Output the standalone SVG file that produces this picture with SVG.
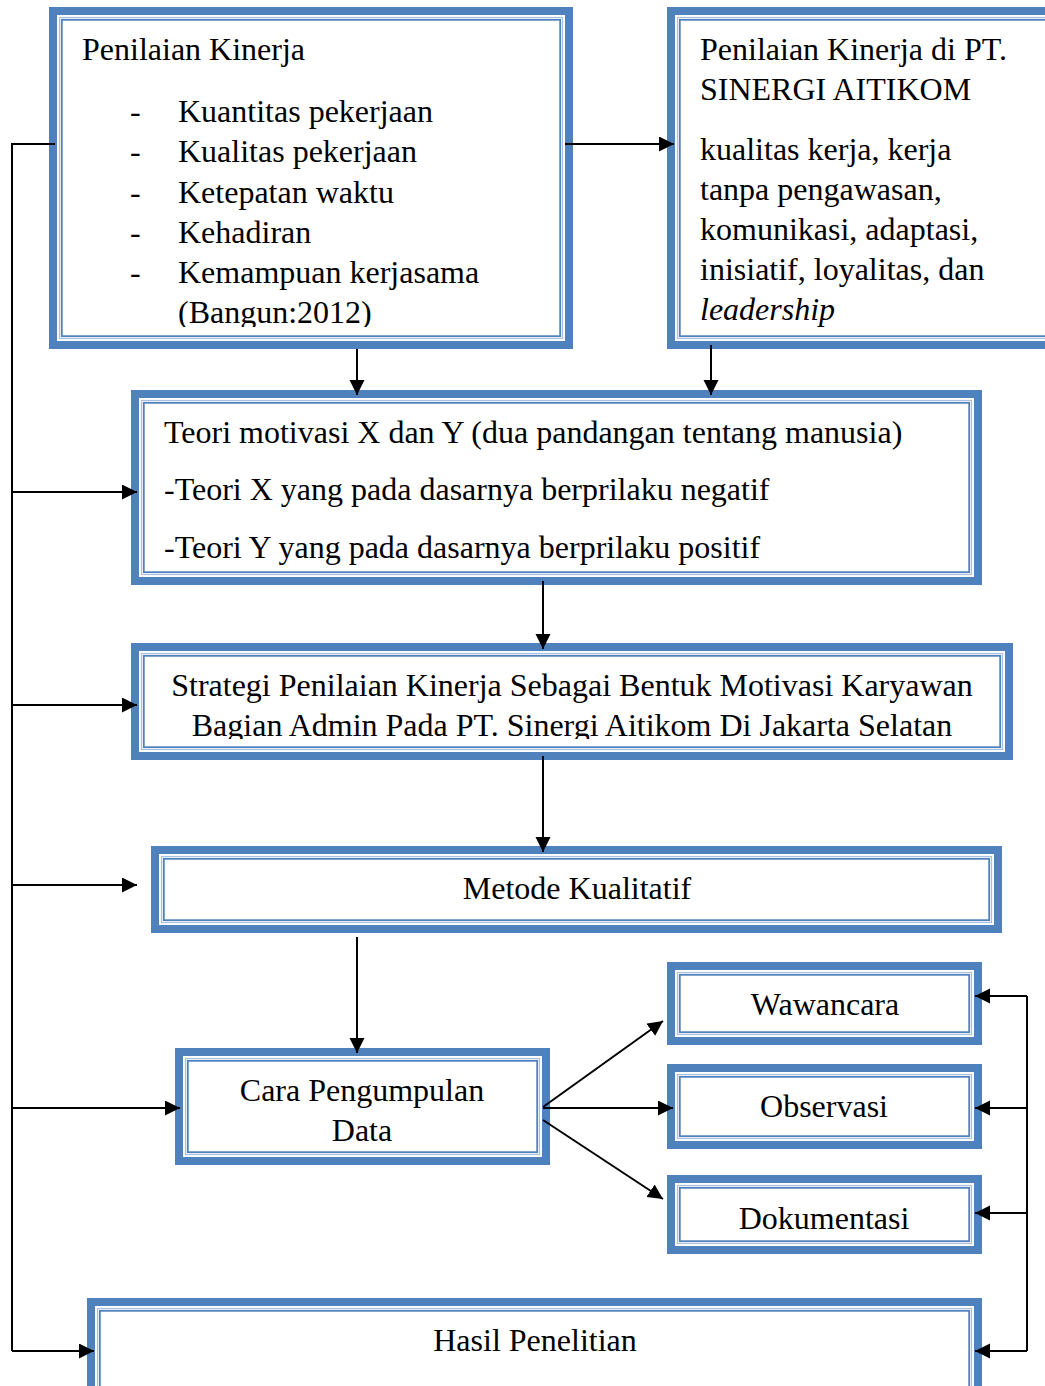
<svg xmlns="http://www.w3.org/2000/svg" width="1045" height="1386" viewBox="0 0 1045 1386">
<style>
.o{fill:#fff;stroke:#4F81BD;stroke-width:8}
.l{fill:none;stroke:#A9C1E0;stroke-width:1.2}
.b{fill:none;stroke:#4F81BD;stroke-width:1.8}
text{font-family:"Liberation Serif","Times New Roman",serif;font-size:32px;fill:#000}
.c{text-anchor:middle}
.ln{fill:none;stroke:#000;stroke-width:2}
.a{marker-end:url(#ah)}
</style>
<defs>
<marker id="ah" markerUnits="userSpaceOnUse" markerWidth="16" markerHeight="16" refX="15" refY="7.5" orient="auto">
<path d="M0,0 L15,7.5 L0,15 z" fill="#000"/>
</marker>
<clipPath id="c1"><rect x="60" y="20" width="500" height="307"/></clipPath>
<clipPath id="c4"><rect x="140" y="655" width="865" height="84"/></clipPath>
</defs>
<rect width="1045" height="1386" fill="#fff"/>

<g id="n1">
<rect class="o" x="53" y="11" width="516" height="334"/>
<rect class="l" x="59.5" y="17.5" width="503" height="321"/>
<rect class="b" x="61.8" y="19.8" width="498.4" height="316.4"/>
<g clip-path="url(#c1)">
<text x="82" y="60">Penilaian Kinerja</text>
<text x="130" y="122">-</text><text x="178" y="122">Kuantitas pekerjaan</text>
<text x="130" y="162">-</text><text x="178" y="162">Kualitas pekerjaan</text>
<text x="130" y="203">-</text><text x="178" y="203">Ketepatan waktu</text>
<text x="130" y="243">-</text><text x="178" y="243">Kehadiran</text>
<text x="130" y="283">-</text><text x="178" y="283">Kemampuan kerjasama</text>
<text x="178" y="323">(Bangun:2012)</text>
</g>
</g>

<g id="n2">
<rect class="o" x="671" y="11" width="400" height="334"/>
<rect class="l" x="677.5" y="17.5" width="387" height="321"/>
<rect class="b" x="679.8" y="19.8" width="382.4" height="316.4"/>
<text x="700" y="60">Penilaian Kinerja di PT.</text>
<text x="700" y="100">SINERGI AITIKOM</text>
<text x="700" y="160">kualitas kerja, kerja</text>
<text x="700" y="200">tanpa pengawasan,</text>
<text x="700" y="240">komunikasi, adaptasi,</text>
<text x="700" y="280">inisiatif, loyalitas, dan</text>
<text x="700" y="320" font-style="italic">leadership</text>
</g>

<g id="n3">
<rect class="o" x="135" y="394" width="843" height="187"/>
<rect class="l" x="141.5" y="400.5" width="830" height="174"/>
<rect class="b" x="143.8" y="402.8" width="825.4" height="169.4"/>
<text x="164" y="443">Teori motivasi X dan Y (dua pandangan tentang manusia)</text>
<text x="164" y="500">-Teori X yang pada dasarnya berprilaku negatif</text>
<text x="164" y="558">-Teori Y yang pada dasarnya berprilaku positif</text>
</g>

<g id="n4">
<rect class="o" x="135" y="647" width="874" height="109"/>
<rect class="l" x="141.5" y="653.5" width="861" height="96"/>
<rect class="b" x="143.8" y="655.8" width="856.4" height="91.4"/>
<g clip-path="url(#c4)">
<text class="c" x="572" y="696">Strategi Penilaian Kinerja Sebagai Bentuk Motivasi Karyawan</text>
<text class="c" x="572" y="736">Bagian Admin Pada PT. Sinergi Aitikom Di Jakarta Selatan</text>
</g>
</g>

<g id="n5">
<rect class="o" x="155" y="850" width="843" height="79"/>
<rect class="l" x="161.5" y="856.5" width="830" height="66"/>
<rect class="b" x="163.8" y="858.8" width="825.4" height="61.4"/>
<text class="c" x="577" y="899">Metode Kualitatif</text>
</g>

<g id="n6">
<rect class="o" x="179" y="1052" width="367" height="109"/>
<rect class="l" x="185.5" y="1058.5" width="354" height="96"/>
<rect class="b" x="187.8" y="1060.8" width="349.4" height="91.4"/>
<text class="c" x="362" y="1101">Cara Pengumpulan</text>
<text class="c" x="362" y="1141">Data</text>
</g>

<g id="n7">
<rect class="o" x="671" y="966" width="307" height="75"/>
<rect class="l" x="677.5" y="972.5" width="294" height="62"/>
<rect class="b" x="679.8" y="974.8" width="289.4" height="57.4"/>
<text class="c" x="825" y="1015">Wawancara</text>
</g>

<g id="n8">
<rect class="o" x="671" y="1068" width="307" height="77"/>
<rect class="l" x="677.5" y="1074.5" width="294" height="64"/>
<rect class="b" x="679.8" y="1076.8" width="289.4" height="59.4"/>
<text class="c" x="824" y="1117">Observasi</text>
</g>

<g id="n9">
<rect class="o" x="671" y="1179" width="307" height="71"/>
<rect class="l" x="677.5" y="1185.5" width="294" height="58"/>
<rect class="b" x="679.8" y="1187.8" width="289.4" height="53.4"/>
<text class="c" x="824" y="1229">Dokumentasi</text>
</g>

<g id="n10">
<rect class="o" x="91" y="1302" width="887" height="110"/>
<rect class="l" x="97.5" y="1308.5" width="874" height="97"/>
<rect class="b" x="99.8" y="1310.8" width="869.4" height="92.4"/>
<text class="c" x="535" y="1351">Hasil Penelitian</text>
</g>

<g id="connectors">
<path class="ln" d="M55,144 H12 V1351"/>
<path class="ln a" d="M12,492 H137"/>
<path class="ln a" d="M12,705 H137"/>
<path class="ln a" d="M12,885 H137"/>
<path class="ln a" d="M12,1108 H180"/>
<path class="ln a" d="M12,1351 H94"/>
<path class="ln a" d="M565,144 H674"/>
<path class="ln a" d="M357,349 V395"/>
<path class="ln a" d="M711,345 V395"/>
<path class="ln a" d="M543,581 V649"/>
<path class="ln a" d="M543,756 V852"/>
<path class="ln a" d="M357,937 V1053"/>
<path class="ln a" d="M543,1107 L663,1021"/>
<path class="ln a" d="M543,1108 H673"/>
<path class="ln a" d="M543,1120 L663,1199"/>
<path class="ln" d="M1027,996 V1351"/>
<path class="ln a" d="M1027,996 H975"/>
<path class="ln a" d="M1027,1108 H975"/>
<path class="ln a" d="M1027,1213 H975"/>
<path class="ln a" d="M1027,1351 H975"/>
</g>
</svg>
